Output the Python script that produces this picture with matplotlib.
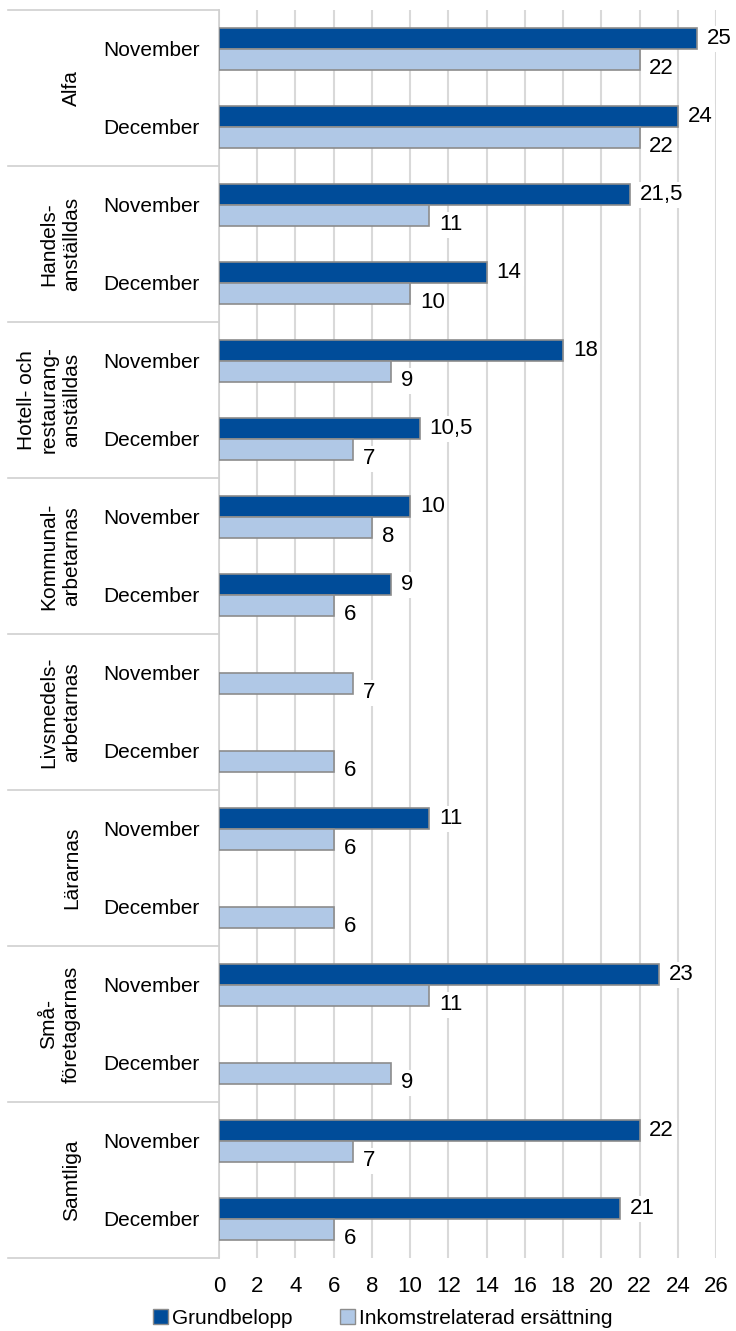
import numpy as np
import matplotlib
matplotlib.use("Agg")
import matplotlib.pyplot as plt
import matplotlib.transforms as mtransforms
from matplotlib.patches import Patch

plt.rcParams['font.family'] = ['Liberation Sans', 'DejaVu Sans']

# data
groups = ["Alfa", "Handels-\nanställdas", "Hotell- och\nrestaurang-\nanställdas",
          "Kommunal-\narbetarnas", "Livsmedels-\narbetarnas", "Lärarnas",
          "Små-\nföretagarnas", "Samtliga"]
months = ["November", "December"]
grundbelopp = [25, 24, 21.5, 14, 18, 10.5, 10, 9, None, None, 11, None, 23, None, 22, 21]
inkomst = [22, 22, 11, 10, 9, 7, 8, 6, 7, 6, 6, 6, 11, 9, 7, 6]
xticks = list(range(0, 27, 2))

dark = "#004C99"
light = "#B0C8E6"
edge = "#8C8C8C"
grid_c = "#D9D9D9"
sep_c = "#D0D0D0"

W, H = 736, 1331
fig = plt.figure(figsize=(W / 100, H / 100), dpi=100)
left, right, top, bottom = 219, 716, 10, 1258
ax = fig.add_axes([left / W, 1 - bottom / H, (right - left) / W, (bottom - top) / H])

n = len(inkomst)
ypos = np.arange(n)
bh = 0.263
fs = 15
fs_num = 16

for y, v in zip(ypos, grundbelopp):
    if v is None:
        continue
    ax.barh(y - bh / 2, v, height=bh, color=dark, edgecolor=edge, linewidth=1.2, zorder=3)
    ax.annotate(f"{v:g}".replace(".", ","), (v, y - bh / 2), xytext=(7, 0),
                textcoords="offset points", ha="left", va="center", fontsize=fs_num,
                bbox=dict(boxstyle="square,pad=0.12", fc="white", ec="none"), zorder=4)

for y, v in zip(ypos, inkomst):
    ax.barh(y + bh / 2, v, height=bh, color=light, edgecolor=edge, linewidth=1.2, zorder=3)
    ax.annotate(f"{v:g}".replace(".", ","), (v, y + bh / 2), xytext=(7, -7),
                textcoords="offset points", ha="left", va="center", fontsize=fs_num,
                bbox=dict(boxstyle="square,pad=0.12", fc="white", ec="none"), zorder=4)

ax.set_xlim(0, 26)
ax.set_ylim(n - 0.5, -0.5)
ax.set_xticks(xticks)
ax.set_xticklabels([str(t) for t in xticks], fontsize=fs_num)
ax.set_yticks(ypos)
ax.set_yticklabels(months * len(groups), fontsize=fs)
ax.tick_params(axis="both", length=0)
ax.tick_params(axis="y", pad=14)
ax.tick_params(axis="x", pad=13)
ax.xaxis.grid(True, color=grid_c, linewidth=1.5, zorder=0)
ax.set_axisbelow(True)
for s in ["top", "right", "bottom"]:
    ax.spines[s].set_visible(False)
ax.spines["left"].set_color(sep_c)
ax.spines["left"].set_linewidth(1.2)

# group separators and group labels to the left of the axis
trans = mtransforms.blended_transform_factory(ax.transAxes, ax.transData)
x0 = (8 - left) / (right - left)
xlab = (81 - left) / (right - left)
for i, g in enumerate(groups):
    yb = 2 * i - 0.5
    ax.plot([x0, 0], [yb, yb], color=sep_c, linewidth=1.2, transform=trans, clip_on=False)
    ax.text(xlab, 2 * i + 0.5, g, rotation=90, ha="right", va="center",
            multialignment="center", fontsize=fs, linespacing=1.25,
            transform=trans)
ax.plot([x0, 0], [n - 0.5, n - 0.5], color=sep_c, linewidth=1.2, transform=trans, clip_on=False)

handles = [Patch(facecolor=dark, edgecolor=edge), Patch(facecolor=light, edgecolor=edge)]
fig.legend(handles, ["Grundbelopp", "Inkomstrelaterad ersättning"], loc="center",
           bbox_to_anchor=(383 / W, 1 - 1318 / H), ncol=2, frameon=False, fontsize=fs,
           handlelength=0.7, handleheight=0.7, handletextpad=0.2, columnspacing=2.3)

fig.savefig("out.png", dpi=100, facecolor="white")
